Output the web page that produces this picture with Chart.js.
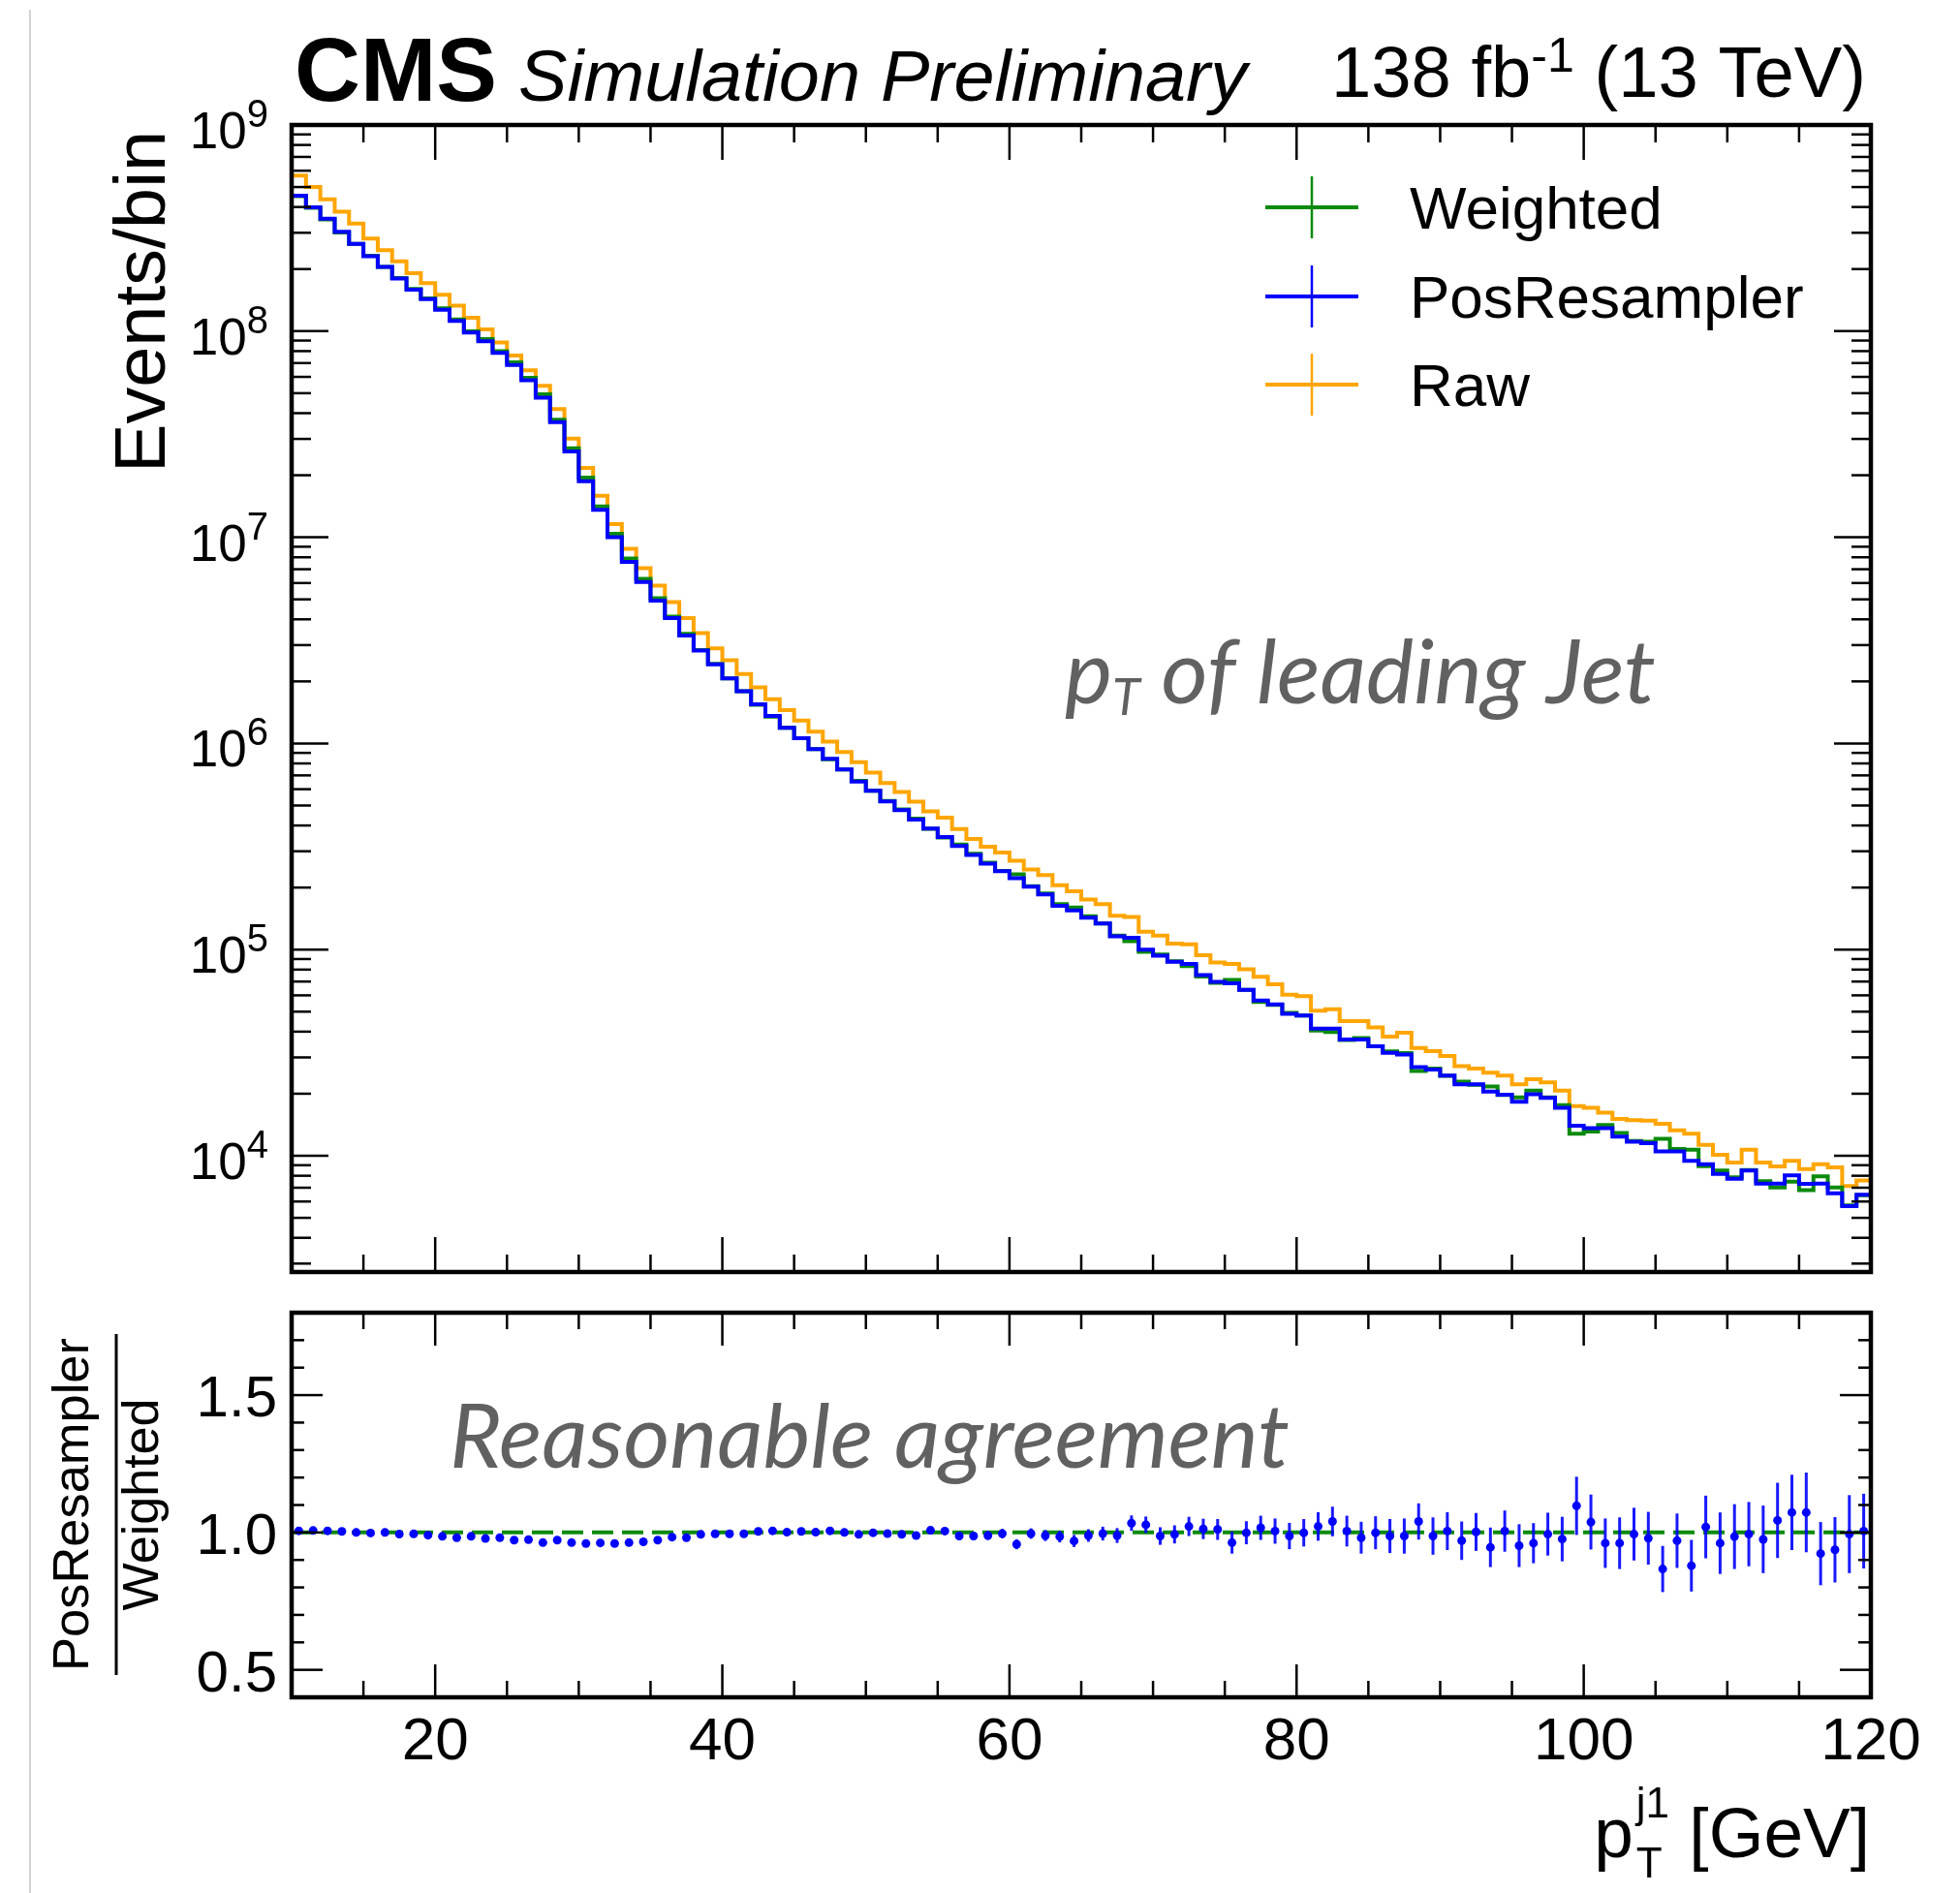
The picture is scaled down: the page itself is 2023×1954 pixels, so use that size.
<!DOCTYPE html>
<html>
<head>
<meta charset="utf-8">
<script src="https://cdn.jsdelivr.net/npm/chart.js@4.4.1/dist/chart.umd.min.js"></script>
<style>
  html, body { margin: 0; padding: 0; background: #fff; }
  body { width: 2023px; height: 1954px; position: relative; overflow: hidden; }
  #pageEdge { position: absolute; left: 30px; top: 10px; width: 2px; height: 1944px; background: #d2d2d2; }
  canvas { position: absolute; left: 0; top: 0; }
</style>
</head>
<body>
<div id="pageEdge"></div>
<canvas id="mainPad" width="2023" height="1954"></canvas>
<canvas id="ratioPad" width="2023" height="1954"></canvas>
<script>
// leading-jet pT histogram, 1 GeV bins from 10 to 120 GeV
const ptMin = 10;
const ptMax = 120;
const binWidth = 1;

const weighted = [
  4.51e8, 3.96e8, 3.48e8, 3.01e8, 2.65e8, 2.32e8, 2.05e8, 1.81e8, 1.60e8, 1.44e8,
  1.29e8, 1.14e8, 9.98e7, 9.14e7, 8.00e7, 7.05e7, 5.93e7, 4.94e7, 3.72e7, 2.70e7,
  1.95e7, 1.41e7, 1.04e7, 7.89e6, 6.28e6, 5.07e6, 4.12e6, 3.40e6, 2.84e6, 2.43e6,
  2.07e6, 1.79e6, 1.54e6, 1.35e6, 1.19e6, 1.06e6, 9.40e5, 8.38e5, 7.48e5, 6.58e5,
  5.90e5, 5.26e5, 4.79e5, 4.32e5, 3.85e5, 3.50e5, 3.23e5, 2.92e5, 2.64e5, 2.41e5,
  2.32e5, 2.03e5, 1.87e5, 1.66e5, 1.60e5, 1.45e5, 1.34e5, 1.17e5, 1.10e5, 9.75e4,
  9.46e4, 8.79e4, 8.32e4, 7.41e4, 6.90e4, 7.13e4, 6.38e4, 5.57e4, 5.40e4, 4.94e4,
  4.79e4, 4.05e4, 3.98e4, 3.64e4, 3.72e4, 3.40e4, 3.21e4, 3.15e4, 2.58e4, 2.65e4,
  2.44e4, 2.29e4, 2.21e4, 2.17e4, 1.97e4, 1.92e4, 2.07e4, 1.92e4, 1.76e4, 1.28e4,
  1.31e4, 1.41e4, 1.29e4, 1.18e4, 1.17e4, 1.21e4, 1.08e4, 1.07e4, 8.91e3, 8.49e3,
  7.87e3, 8.53e3, 7.52e3, 7.01e3, 7.48e3, 6.81e3, 7.94e3, 7.01e3, 5.74e3, 6.44e3
];

const posResampler = [
  4.54e8, 3.99e8, 3.51e8, 3.03e8, 2.65e8, 2.31e8, 2.05e8, 1.80e8, 1.59e8, 1.43e8,
  1.27e8, 1.12e8, 9.84e7, 8.93e7, 7.85e7, 6.85e7, 5.78e7, 4.76e7, 3.62e7, 2.61e7,
  1.87e7, 1.36e7, 1.00e7, 7.60e6, 6.07e6, 4.93e6, 4.06e6, 3.34e6, 2.82e6, 2.42e6,
  2.07e6, 1.79e6, 1.55e6, 1.36e6, 1.19e6, 1.06e6, 9.40e5, 8.43e5, 7.48e5, 6.53e5,
  5.90e5, 5.24e5, 4.75e5, 4.27e5, 3.87e5, 3.52e5, 3.18e5, 2.88e5, 2.61e5, 2.40e5,
  2.22e5, 2.02e5, 1.85e5, 1.63e5, 1.55e5, 1.43e5, 1.34e5, 1.16e5, 1.14e5, 1.00e5,
  9.33e4, 8.73e4, 8.51e4, 7.52e4, 6.98e4, 6.87e4, 6.38e4, 5.66e4, 5.42e4, 4.88e4,
  4.79e4, 4.14e4, 4.14e4, 3.66e4, 3.66e4, 3.40e4, 3.16e4, 3.10e4, 2.69e4, 2.62e4,
  2.45e4, 2.22e4, 2.22e4, 2.05e4, 1.98e4, 1.83e4, 1.99e4, 1.91e4, 1.71e4, 1.40e4,
  1.36e4, 1.36e4, 1.24e4, 1.17e4, 1.15e4, 1.05e4, 1.05e4, 9.44e3, 9.10e3, 8.17e3,
  7.74e3, 8.47e3, 7.33e3, 7.33e3, 8.04e3, 7.31e3, 7.33e3, 6.58e3, 5.70e3, 6.47e3
];

const raw = [
  5.68e8, 5.01e8, 4.36e8, 3.80e8, 3.33e8, 2.81e8, 2.47e8, 2.18e8, 1.91e8, 1.71e8,
  1.50e8, 1.33e8, 1.16e8, 1.02e8, 8.81e7, 7.62e7, 6.46e7, 5.43e7, 4.19e7, 3.01e7,
  2.17e7, 1.59e7, 1.16e7, 8.79e6, 7.08e6, 5.83e6, 4.85e6, 4.06e6, 3.43e6, 2.89e6,
  2.53e6, 2.17e6, 1.87e6, 1.64e6, 1.45e6, 1.29e6, 1.14e6, 1.02e6, 9.08e5, 8.11e5,
  7.23e5, 6.43e5, 5.82e5, 5.22e5, 4.69e5, 4.37e5, 3.84e5, 3.44e5, 3.16e5, 2.96e5,
  2.70e5, 2.45e5, 2.30e5, 2.05e5, 1.92e5, 1.75e5, 1.66e5, 1.46e5, 1.44e5, 1.22e5,
  1.17e5, 1.07e5, 1.06e5, 9.40e4, 8.67e4, 8.51e4, 8.02e4, 7.38e4, 6.79e4, 6.05e4,
  5.94e4, 5.06e4, 5.14e4, 4.50e4, 4.50e4, 4.19e4, 3.78e4, 3.95e4, 3.33e4, 3.22e4,
  3.05e4, 2.72e4, 2.65e4, 2.53e4, 2.45e4, 2.22e4, 2.35e4, 2.27e4, 2.07e4, 1.74e4,
  1.71e4, 1.62e4, 1.51e4, 1.49e4, 1.48e4, 1.43e4, 1.33e4, 1.28e4, 1.13e4, 1.01e4,
  9.27e3, 1.07e4, 9.27e3, 8.87e3, 9.44e3, 8.63e3, 9.10e3, 8.79e3, 7.14e3, 7.60e3
];

// PosResampler / Weighted per bin and its uncertainty
const ratio = [
  1.006, 1.007, 1.006, 1.004, 1.000, 0.998, 1.000, 0.994, 0.995, 0.990,
  0.986, 0.981, 0.986, 0.978, 0.981, 0.972, 0.974, 0.963, 0.972, 0.963,
  0.960, 0.962, 0.960, 0.963, 0.966, 0.972, 0.983, 0.981, 0.993, 0.995,
  0.995, 0.995, 1.004, 1.006, 1.001, 1.004, 1.001, 1.006, 1.000, 0.993,
  0.999, 0.996, 0.993, 0.989, 1.008, 1.005, 0.987, 0.987, 0.989, 0.996,
  0.957, 0.996, 0.989, 0.985, 0.969, 0.989, 0.996, 0.989, 1.034, 1.028,
  0.987, 0.993, 1.022, 1.013, 1.011, 0.963, 0.999, 1.017, 1.005, 0.987,
  0.999, 1.022, 1.040, 1.005, 0.981, 0.999, 0.987, 0.987, 1.040, 0.987,
  1.005, 0.970, 1.002, 0.946, 1.005, 0.952, 0.961, 0.994, 0.976, 1.097,
  1.038, 0.961, 0.961, 0.994, 0.979, 0.867, 0.970, 0.879, 1.020, 0.961,
  0.985, 0.994, 0.975, 1.044, 1.073, 1.073, 0.923, 0.937, 0.994, 1.005
];

const ratioErr = [
  0.001, 0.001, 0.001, 0.001, 0.001, 0.001, 0.001, 0.001, 0.001, 0.001,
  0.001, 0.001, 0.001, 0.001, 0.001, 0.002, 0.002, 0.002, 0.002, 0.002,
  0.002, 0.003, 0.003, 0.003, 0.004, 0.004, 0.004, 0.005, 0.005, 0.005,
  0.006, 0.006, 0.006, 0.007, 0.007, 0.008, 0.008, 0.009, 0.009, 0.010,
  0.010, 0.011, 0.011, 0.012, 0.013, 0.013, 0.014, 0.015, 0.016, 0.017,
  0.018, 0.019, 0.020, 0.021, 0.022, 0.023, 0.025, 0.027, 0.028, 0.030,
  0.032, 0.033, 0.035, 0.037, 0.038, 0.040, 0.042, 0.044, 0.046, 0.048,
  0.050, 0.052, 0.054, 0.056, 0.058, 0.060, 0.062, 0.064, 0.066, 0.068,
  0.069, 0.070, 0.069, 0.072, 0.075, 0.078, 0.073, 0.078, 0.081, 0.106,
  0.100, 0.090, 0.094, 0.096, 0.096, 0.084, 0.099, 0.094, 0.114, 0.112,
  0.118, 0.117, 0.123, 0.137, 0.137, 0.145, 0.115, 0.119, 0.142, 0.136
];

// axis ticks
const xLabelTicks = [20, 40, 60, 80, 100, 120];
const xMinorTicks = [15, 25, 30, 35, 45, 50, 55, 65, 70, 75, 85, 90, 95, 105, 110, 115];
const yDecades = [4, 5, 6, 7, 8, 9];
const yRange = [2730, 1e9];
const ratioRange = [0.4, 1.8];
const ratioLabelTicks = [0.5, 1.0, 1.5];
const ratioMinorTicks = [0.6, 0.7, 0.8, 0.9, 1.1, 1.2, 1.3, 1.4, 1.6, 1.7];

const GREEN = '#0b8a0b';
const BLUE = '#0000ff';
const ORANGE = '#ffa500';
const NOTE_GREY = '#616161';
const SANS = '"Liberation Sans", Arial, sans-serif';

const binLow = weighted.map((_, i) => ptMin + i * binWidth);

// staircase points: one per lower edge, plus the closing upper edge
function stepPoints(vals) {
  const pts = vals.map((v, i) => ({ x: binLow[i], y: v }));
  pts.push({ x: binLow[vals.length - 1] + binWidth, y: vals[vals.length - 1] });
  return pts;
}

// text made of several pieces (superscripts etc.), optionally squeezed to a width
function drawRich(ctx, parts, x, y, align, fitWidth) {
  let w = 0;
  parts.forEach(p => { ctx.font = p.font; p.w = ctx.measureText(p.text).width; w += p.w; });
  const sx = fitWidth ? fitWidth / w : 1;
  const x0 = align === 'right' ? x - w * sx : align === 'center' ? x - w * sx / 2 : x;
  ctx.save();
  ctx.textAlign = 'left';
  ctx.textBaseline = 'alphabetic';
  ctx.translate(x0, y);
  ctx.scale(sx, 1);
  let cx = 0;
  parts.forEach(p => {
    ctx.font = p.font;
    ctx.fillText(p.text, cx, p.dy || 0);
    cx += p.w;
  });
  ctx.restore();
}

function line(ctx, x1, y1, x2, y2) {
  ctx.beginPath();
  ctx.moveTo(x1, y1);
  ctx.lineTo(x2, y2);
  ctx.stroke();
}

// inward ticks on all four sides plus the pad frame
function drawFrame(chart, xTicks, yTicks) {
  const { ctx, chartArea: a, scales } = chart;
  ctx.save();
  ctx.strokeStyle = '#000';
  ctx.lineWidth = 2.5;
  xTicks.forEach(t => {
    const px = scales.x.getPixelForValue(t.v);
    line(ctx, px, a.bottom, px, a.bottom - t.len);
    line(ctx, px, a.top, px, a.top + t.len);
  });
  yTicks.forEach(t => {
    const py = scales.y.getPixelForValue(t.v);
    line(ctx, a.left, py, a.left + t.len, py);
    line(ctx, a.right, py, a.right - t.len, py);
  });
  ctx.lineWidth = 4.5;
  ctx.strokeRect(a.left, a.top, a.right - a.left, a.bottom - a.top);
  ctx.restore();
}

const mainDecor = {
  id: 'mainDecor',
  afterDraw(chart) {
    const { ctx, scales } = chart;
    const xTicks = xLabelTicks.map(v => ({ v, len: 36 }))
      .concat(xMinorTicks.map(v => ({ v, len: 18 })));
    const yTicks = [];
    yDecades.forEach(d => yTicks.push({ v: Math.pow(10, d), len: 38 }));
    for (let d = 3; d <= 8; d++) {
      for (let m = 2; m <= 9; m++) {
        const v = m * Math.pow(10, d);
        if (v > yRange[0] && v < yRange[1]) yTicks.push({ v, len: 20 });
      }
    }
    drawFrame(chart, xTicks, yTicks);

    ctx.save();
    ctx.fillStyle = '#000';

    // y tick labels 10^n
    yDecades.forEach(d => {
      const py = scales.y.getPixelForValue(Math.pow(10, d));
      drawRich(ctx, [
        { text: '10', font: '53px ' + SANS },
        { text: String(d), font: '40px ' + SANS, dy: -22 }
      ], 277, py + 24, 'right');
    });

    // y title
    ctx.save();
    ctx.translate(170, 135);
    ctx.rotate(-Math.PI / 2);
    drawRich(ctx, [{ text: 'Events/bin', font: '75px ' + SANS }], 0, 0, 'right', 353);
    ctx.restore();

    // header
    drawRich(ctx, [{ text: 'CMS', font: 'bold 92px ' + SANS }], 304, 104, 'left', 209);
    drawRich(ctx, [{ text: 'Simulation Preliminary', font: 'italic 74px ' + SANS }], 535, 104, 'left', 752);
    drawRich(ctx, [
      { text: '138 fb', font: '74px ' + SANS },
      { text: '-1', font: '50px ' + SANS, dy: -26 },
      { text: ' (13 TeV)', font: '74px ' + SANS }
    ], 1926, 100, 'right', 552);

    // legend: cross markers in the dataset colours
    const legendY = [214, 306, 397];
    chart.data.datasets.forEach((ds, i) => {
      const y = legendY[i];
      ctx.strokeStyle = ds.borderColor;
      ctx.lineWidth = 4;
      line(ctx, 1306, y, 1402, y);
      ctx.lineWidth = 2.5;
      line(ctx, 1354, y - 32, 1354, y + 32);
      ctx.fillStyle = '#000';
      drawRich(ctx, [{ text: ds.label, font: '62px ' + SANS }], 1455, y + 22, 'left');
    });

    // annotation
    ctx.fillStyle = NOTE_GREY;
    drawRich(ctx, [
      { text: 'p', font: 'italic 92px Lato' },
      { text: 'T', font: 'italic 52px Lato', dy: 12 },
      { text: ' of leading Jet', font: 'italic 92px Lato' }
    ], 1099, 726, 'left', 610);
    ctx.restore();
  }
};

const ratioDecor = {
  id: 'ratioDecor',
  afterDatasetsDraw(chart) {
    // vertical error bars on the ratio points
    const { ctx, scales } = chart;
    ctx.save();
    ctx.strokeStyle = 'rgba(0, 0, 255, 0.9)';
    ctx.lineWidth = 3;
    ratio.forEach((r, i) => {
      const px = scales.x.getPixelForValue(binLow[i] + binWidth / 2);
      line(ctx, px, scales.y.getPixelForValue(r - ratioErr[i]), px, scales.y.getPixelForValue(r + ratioErr[i]));
    });
    ctx.restore();
  },
  afterDraw(chart) {
    const { ctx, scales } = chart;
    const xTicks = xLabelTicks.map(v => ({ v, len: 34 }))
      .concat(xMinorTicks.map(v => ({ v, len: 17 })));
    const yTicks = ratioLabelTicks.map(v => ({ v, len: 32 }))
      .concat(ratioMinorTicks.map(v => ({ v, len: 13 })));
    drawFrame(chart, xTicks, yTicks);

    ctx.save();
    ctx.fillStyle = '#000';
    ratioLabelTicks.forEach(v => {
      const py = scales.y.getPixelForValue(v);
      drawRich(ctx, [{ text: v.toFixed(1), font: '60px ' + SANS }], 286, py + 22, 'right');
    });
    xLabelTicks.forEach(v => {
      const px = scales.x.getPixelForValue(v);
      drawRich(ctx, [{ text: String(v), font: '62px ' + SANS }], px, 1816, 'center');
    });

    // x title p_T^{j1} [GeV]
    ctx.textAlign = 'left';
    ctx.textBaseline = 'alphabetic';
    ctx.font = '73px ' + SANS;
    const wp = ctx.measureText('p').width;
    const wUnit = ctx.measureText(' [GeV]').width;
    ctx.font = '44px ' + SANS;
    const wIdx = Math.max(ctx.measureText('j1').width, ctx.measureText('T').width);
    const x0 = 1930 - (wp + 3 + wIdx + wUnit);
    ctx.font = '73px ' + SANS;
    ctx.fillText('p', x0, 1917);
    ctx.fillText(' [GeV]', x0 + wp + 3 + wIdx, 1917);
    ctx.font = '44px ' + SANS;
    ctx.fillText('j1', x0 + wp + 3, 1876);
    ctx.fillText('T', x0 + wp + 3, 1938);

    // ratio y title as a fraction
    ctx.save();
    ctx.translate(91, 1553);
    ctx.rotate(-Math.PI / 2);
    drawRich(ctx, [{ text: 'PosResampler', font: '52px ' + SANS }], 0, 0, 'center', 344);
    ctx.restore();
    ctx.save();
    ctx.translate(163, 1553);
    ctx.rotate(-Math.PI / 2);
    drawRich(ctx, [{ text: 'Weighted', font: '52px ' + SANS }], 0, 0, 'center', 219);
    ctx.restore();
    ctx.fillRect(118.5, 1377, 3, 352);

    ctx.fillStyle = NOTE_GREY;
    drawRich(ctx, [{ text: 'Reasonable agreement', font: 'italic 92px Lato' }], 464, 1515, 'left', 867);
    ctx.restore();
  }
};

new Chart(document.getElementById('mainPad'), {
  type: 'line',
  data: {
    datasets: [
      { label: 'Weighted', data: stepPoints(weighted), borderColor: GREEN, order: 2 },
      { label: 'PosResampler', data: stepPoints(posResampler), borderColor: BLUE, order: 1 },
      { label: 'Raw', data: stepPoints(raw), borderColor: ORANGE, order: 3 }
    ]
  },
  options: {
    responsive: false,
    animation: false,
    devicePixelRatio: 1,
    layout: { padding: { left: 301, right: 92, top: 129, bottom: 641 } },
    elements: {
      line: { borderWidth: 4, stepped: 'before', tension: 0, fill: false },
      point: { radius: 0, hoverRadius: 0 }
    },
    scales: {
      x: { type: 'linear', min: ptMin, max: ptMax, display: false },
      y: { type: 'logarithmic', min: yRange[0], max: yRange[1], display: false }
    },
    plugins: { legend: { display: false }, tooltip: { enabled: false } },
    events: []
  },
  plugins: [mainDecor]
});

new Chart(document.getElementById('ratioPad'), {
  type: 'line',
  data: {
    datasets: [
      {
        label: 'Weighted',
        data: [{ x: ptMin, y: 1 }, { x: ptMax, y: 1 }],
        borderColor: GREEN,
        borderWidth: 4,
        borderDash: [22, 9],
        pointRadius: 0,
        order: 2
      },
      {
        label: 'PosResampler',
        data: ratio.map((r, i) => ({ x: binLow[i] + binWidth / 2, y: r })),
        showLine: false,
        pointRadius: 4.5,
        pointBackgroundColor: BLUE,
        pointBorderWidth: 0,
        order: 1
      }
    ]
  },
  options: {
    responsive: false,
    animation: false,
    devicePixelRatio: 1,
    layout: { padding: { left: 301, right: 92, top: 1355, bottom: 202 } },
    scales: {
      x: { type: 'linear', min: ptMin, max: ptMax, display: false },
      y: { type: 'linear', min: ratioRange[0], max: ratioRange[1], display: false }
    },
    plugins: { legend: { display: false }, tooltip: { enabled: false } },
    events: []
  },
  plugins: [ratioDecor]
});
</script>
</body>
</html>
